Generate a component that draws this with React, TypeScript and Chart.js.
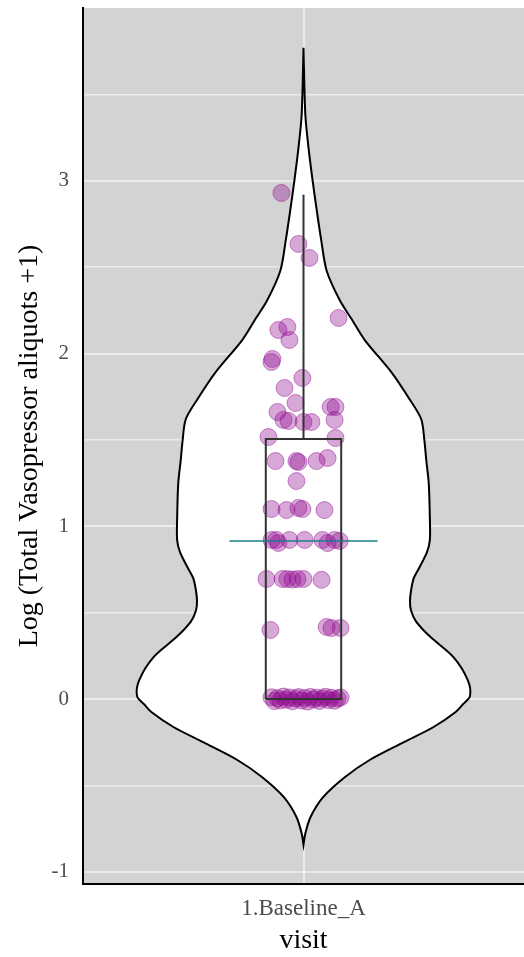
import { useEffect, useRef } from 'react';
import { Chart, registerables } from 'chart.js';

Chart.register(...registerables);

// ---------- data ----------
const categories = ['1.Baseline_A'];
const yTickValues = [-1, -0.5, 0, 0.5, 1, 1.5, 2, 2.5, 3, 3.5];

// violin density profile: value (top -> bottom) and half width (in category-width units)
const violinY = [
  3.77, 3.55, 3.37, 3.2, 3.005, 2.83, 2.66, 2.48, 2.31, 2.2, 2.08, 1.89, 1.73, 1.62, 1.5,
  1.38, 1.25, 1.05, 0.92, 0.85, 0.76, 0.7, 0.63, 0.57, 0.515, 0.45, 0.36, 0.243, 0.11,
  0.017, -0.03, -0.075, -0.162, -0.25, -0.353, -0.45, -0.567, -0.683, -0.78, -0.845,
];
const violinHalfWidth = [
  0, 0.004, 0.009, 0.022, 0.041, 0.06, 0.08, 0.105, 0.164, 0.218, 0.277, 0.4, 0.484, 0.534, 0.548,
  0.557, 0.568, 0.573, 0.573, 0.56, 0.525, 0.5, 0.488, 0.483, 0.487, 0.51, 0.575, 0.68, 0.745,
  0.755, 0.723, 0.69, 0.59, 0.455, 0.3, 0.19, 0.09, 0.032, 0.008, 0,
];

// box plot summary
const boxLower = 0;
const boxUpper = 1.505;
const whiskerUpper = 2.92;
const meanValue = 0.915;

// jittered observations: horizontal jitter and value
const pointJitter = [
  -0.1, -0.023, 0.027, 0.159, -0.114, -0.073, -0.064, -0.141, -0.145, -0.005,
  -0.086, -0.036, -0.118, 0.123, 0.145, -0.091, -0.068, 0.0, 0.036, 0.141,
  -0.159, 0.145, -0.127, -0.032, -0.023, 0.059, 0.109, -0.032, -0.145, -0.077,
  -0.023, -0.005, 0.095,
  -0.145, -0.123, -0.114, -0.064, 0.005, 0.086, 0.109, 0.141, 0.164,
  -0.168, -0.095, -0.073, -0.05, -0.027, 0.0, 0.082,
  -0.15, 0.105, 0.127, 0.168,
  -0.145, -0.132, -0.118, -0.105, -0.091, -0.077, -0.064, -0.05, -0.036, -0.023, -0.009, 0.005,
  0.018, 0.032, 0.045, 0.059, 0.073, 0.086, 0.1, 0.114, 0.127, 0.141, 0.155, 0.168,
];
const pointValue = [
  2.93, 2.635, 2.554, 2.206, 2.137, 2.154, 2.079, 1.969, 1.951, 1.859,
  1.801, 1.714, 1.662, 1.691, 1.691, 1.616, 1.61, 1.604, 1.604, 1.616,
  1.517, 1.511, 1.378, 1.378, 1.372, 1.378, 1.395, 1.262, 1.1, 1.094,
  1.106, 1.1, 1.094,
  0.921, 0.921, 0.903, 0.921, 0.921, 0.921, 0.903, 0.921, 0.915,
  0.695, 0.695, 0.695, 0.692, 0.695, 0.695, 0.69,
  0.4, 0.417, 0.411, 0.411,
  0.01, -0.012, 0.005, -0.008, 0.014, -0.004, 0.009, -0.013, 0.002, 0.011, -0.009, 0.006,
  -0.015, 0.012, -0.003, 0.008, -0.011, 0.004, 0.013, -0.006, 0.007, -0.01, 0.003, 0.009,
];

// ---------- geometry / style constants ----------
const BOX_HALF = 0.171;
const MEAN_HALF = 0.336;
const SERIF = "'Liberation Serif', 'Times New Roman', serif";

export default function App() {
  const ref = useRef<HTMLCanvasElement>(null);

  useEffect(() => {
    const canvas = ref.current;
    if (!canvas) return;

    const left = violinY.map((y, i) => ({ x: -violinHalfWidth[i], y }));
    const right = violinY.map((y, i) => ({ x: violinHalfWidth[i], y })).reverse();
    const violinData = [...left, ...right, left[0]];

    const boxData = [
      { x: -BOX_HALF, y: boxLower },
      { x: -BOX_HALF, y: boxUpper },
      { x: BOX_HALF, y: boxUpper },
      { x: BOX_HALF, y: boxLower },
      { x: -BOX_HALF, y: boxLower },
    ];
    const whiskerData = [
      { x: 0, y: boxUpper },
      { x: 0, y: whiskerUpper },
    ];
    const meanData = [
      { x: -MEAN_HALF, y: meanValue },
      { x: MEAN_HALF, y: meanValue },
    ];
    const pts = pointValue.map((v, i) => ({ x: pointJitter[i], y: v }));

    const panelBg = {
      id: 'panelBg',
      beforeDraw(chart: any) {
        const { ctx, chartArea: a } = chart;
        ctx.save();
        ctx.fillStyle = '#d3d3d3';
        ctx.fillRect(a.left, a.top, a.right - a.left, a.bottom - a.top);
        ctx.restore();
      },
    };

    const gridColor = () => '#ebebeb';
    const gridWidth = (c: any) => {
      const v = c.tick ? c.tick.value : 0;
      return Number.isInteger(v) ? 2 : 1.5;
    };

    const chart = new Chart(canvas, {
      type: 'line',
      data: {
        datasets: [
          {
            label: 'violin',
            data: violinData,
            borderColor: '#000000',
            borderWidth: 2,
            backgroundColor: '#ffffff',
            fill: 'shape',
            pointRadius: 0,
            tension: 0.3,
            order: 10,
          } as any,
          {
            label: 'points',
            data: pts,
            showLine: false,
            pointRadius: 8.5,
            pointBackgroundColor: 'rgba(145,10,145,0.36)',
            pointBorderColor: 'rgba(145,10,145,0.45)',
            pointBorderWidth: 1,
            order: 8,
          },
          {
            label: 'box',
            data: boxData,
            borderColor: '#333333',
            borderWidth: 2,
            pointRadius: 0,
            fill: false,
            order: 6,
          },
          {
            label: 'whisker',
            data: whiskerData,
            borderColor: '#333333',
            borderWidth: 2,
            pointRadius: 0,
            fill: false,
            order: 5,
          },
          {
            label: 'mean',
            data: meanData,
            borderColor: '#1b7f88',
            borderWidth: 1.5,
            pointRadius: 0,
            fill: false,
            order: 1,
          },
        ],
      },
      options: {
        animation: false,
        responsive: false,
        devicePixelRatio: 1,
        layout: { autoPadding: false, padding: { top: 8, left: 0, right: 0, bottom: 0 } },
        plugins: {
          legend: { display: false },
          tooltip: { enabled: false },
        },
        scales: {
          x: {
            type: 'linear',
            min: -1,
            max: 1,
            afterBuildTicks: (s: any) => {
              s.ticks = [{ value: 0 }];
            },
            afterFit: (s: any) => {
              s.height = 73;
              s.paddingLeft = 0;
              s.paddingRight = 0;
              s.paddingTop = 0;
              s.paddingBottom = 0;
            },
            ticks: {
              callback: () => categories[0],
              font: { family: SERIF, size: 23 },
              color: '#4d4d4d',
              padding: 11,
              maxRotation: 0,
              autoSkip: false,
            },
            grid: { color: gridColor, lineWidth: 2, drawTicks: false },
            border: { display: true, color: '#000000', width: 2 },
            title: {
              display: true,
              text: 'visit',
              font: { family: SERIF, size: 28 },
              color: '#000000',
              padding: { top: 0, bottom: 0 },
            },
          },
          y: {
            type: 'linear',
            min: -1.071,
            max: 4.001,
            afterBuildTicks: (s: any) => {
              s.ticks = yTickValues.map((v) => ({ value: v }));
            },
            afterFit: (s: any) => {
              s.width = 83;
              s.paddingLeft = 0;
              s.paddingRight = 0;
              s.paddingTop = 0;
              s.paddingBottom = 0;
            },
            ticks: {
              callback: (v: any) => (Number.isInteger(v) ? String(v) : ''),
              font: { family: SERIF, size: 21 },
              color: '#4d4d4d',
              padding: 14,
            },
            grid: { color: gridColor, lineWidth: gridWidth, drawTicks: false },
            border: { display: true, color: '#000000', width: 2 },
            title: {
              display: true,
              text: 'Log (Total Vasopressor aliquots +1)',
              font: { family: SERIF, size: 28 },
              color: '#000000',
              padding: { top: 13, bottom: 0 },
            },
          },
        },
      } as any,
      plugins: [panelBg],
    });

    return () => chart.destroy();
  }, []);

  return (
    <div style={{ position: 'fixed', left: 0, top: 0, width: 524, height: 957, background: '#ffffff' }}>
      <canvas ref={ref} width={524} height={957} style={{ display: 'block', width: 524, height: 957 }} />
    </div>
  );
}
